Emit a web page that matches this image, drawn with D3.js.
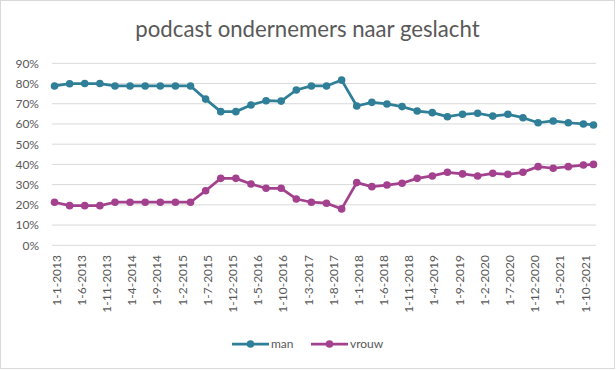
<!DOCTYPE html>
<html><head><meta charset="utf-8">
<script src="https://cdn.jsdelivr.net/npm/d3@7"></script>
<style>html,body{margin:0;padding:0;background:#fff;}svg{display:block;font-family:Lato,"Open Sans",sans-serif;}</style>
</head><body><svg id="c" width="616" height="370"></svg>
<script>
const title = "podcast ondernemers naar geslacht";
const dates = ["1-1-2013","1-4-2013","1-7-2013","1-10-2013","1-1-2014","1-4-2014","1-7-2014","1-10-2014",
"1-1-2015","1-4-2015","1-7-2015","1-10-2015","1-1-2016","1-4-2016","1-7-2016","1-10-2016",
"1-1-2017","1-4-2017","1-7-2017","1-10-2017","1-1-2018","1-4-2018","1-7-2018","1-10-2018",
"1-1-2019","1-4-2019","1-7-2019","1-10-2019","1-1-2020","1-4-2020","1-7-2020","1-10-2020",
"1-1-2021","1-4-2021","1-7-2021","1-10-2021","1-12-2021"];
const man = [78.8,79.9,80.0,80.0,78.8,78.8,78.8,78.8,78.8,78.8,72.3,66.1,66.1,69.4,71.5,71.3,76.8,78.8,78.8,81.7,
68.9,70.7,69.9,68.6,66.4,65.6,63.6,64.8,65.3,63.9,64.8,63.1,60.6,61.5,60.6,60.0,59.5];
const vrouw = [21.3,19.6,19.6,19.6,21.3,21.3,21.3,21.3,21.3,21.3,27.0,33.1,33.1,30.3,28.2,28.2,22.9,21.3,20.8,18.0,
31.0,29.0,29.8,30.7,33.1,34.3,36.1,35.3,34.3,35.6,35.1,36.1,38.9,38.1,38.9,39.7,40.0];
const tickLabels = ["1-1-2013","1-6-2013","1-11-2013","1-4-2014","1-9-2014","1-2-2015","1-7-2015","1-12-2015",
"1-5-2016","1-10-2016","1-3-2017","1-8-2017","1-1-2018","1-6-2018","1-11-2018","1-4-2019","1-9-2019",
"1-2-2020","1-7-2020","1-12-2020","1-5-2021","1-10-2021"];
const yTicks = [0,10,20,30,40,50,60,70,80,90];
const seriesNames = ["man","vrouw"];
const colors = ["#2f7f98","#a3418e"];

const monthIdx = s => { const [d,m,y] = s.split("-").map(Number); return (y-2013)*12 + (m-1); };

const svg = d3.select("#c");
svg.append("rect").attr("x",0.5).attr("y",0.5).attr("width",614).attr("height",368)
  .attr("fill","#fff").attr("stroke","#d9d9d9");

const x = d3.scaleLinear().domain([-0.5, 107.5]).range([52, 596]);
const y = d3.scaleLinear().domain([0, 90]).range([245.3, 63.3]);

svg.append("text").attr("x",307.5).attr("y",37.3).attr("text-anchor","middle")
  .attr("font-size",22.2).attr("fill","#595959").text(title);

// grid
svg.append("g").selectAll("line").data(yTicks).join("line")
  .attr("x1",52).attr("x2",596).attr("y1",d=>y(d)).attr("y2",d=>y(d))
  .attr("stroke","#d9d9d9").attr("stroke-width",1);

const yAxis = d3.axisLeft(y).tickValues(yTicks).tickFormat(d=>d+"%").tickSize(0).tickPadding(0);
const gy = svg.append("g").attr("transform","translate(39,0)").call(yAxis);
gy.select(".domain").remove();
gy.selectAll("text").attr("font-size",12).attr("fill","#595959").attr("font-family","Lato,'Open Sans',sans-serif");

const xAxis = d3.axisBottom(x).tickValues(tickLabels.map(monthIdx)).tickFormat((d,i)=>tickLabels[i]).tickSize(0);
const gx = svg.append("g").attr("transform","translate(0,250)").call(xAxis);
gx.select(".domain").remove();
gx.selectAll("text").attr("font-size",12).attr("fill","#595959").attr("font-family","Lato,'Open Sans',sans-serif")
  .attr("text-anchor","end").attr("dy","0.35em").attr("transform","translate(1.5,5) rotate(-90)").attr("x",0).attr("y",0);

const series = [man, vrouw];
const line = d3.line().x((d,i)=>x(monthIdx(dates[i]))).y(d=>y(d));
series.forEach((s,k)=>{
  const g = svg.append("g");
  g.append("path").datum(s).attr("d",line).attr("fill","none").attr("stroke",colors[k])
    .attr("stroke-width",2.75).attr("stroke-linejoin","round");
  g.selectAll("circle").data(s).join("circle")
    .attr("cx",(d,i)=>x(monthIdx(dates[i]))).attr("cy",d=>y(d)).attr("r",3.8).attr("fill",colors[k]);
});

// legend
const legX = [232, 311];
seriesNames.forEach((n,k)=>{
  const g = svg.append("g").attr("transform",`translate(${legX[k]},344)`);
  g.append("line").attr("x1",0).attr("x2",37).attr("stroke",colors[k]).attr("stroke-width",2.75);
  g.append("circle").attr("cx",18.5).attr("r",3.8).attr("fill",colors[k]);
  g.append("text").attr("x",39).attr("dy","0.35em").attr("font-size",12).attr("fill","#595959").text(n);
});
</script></body></html>
